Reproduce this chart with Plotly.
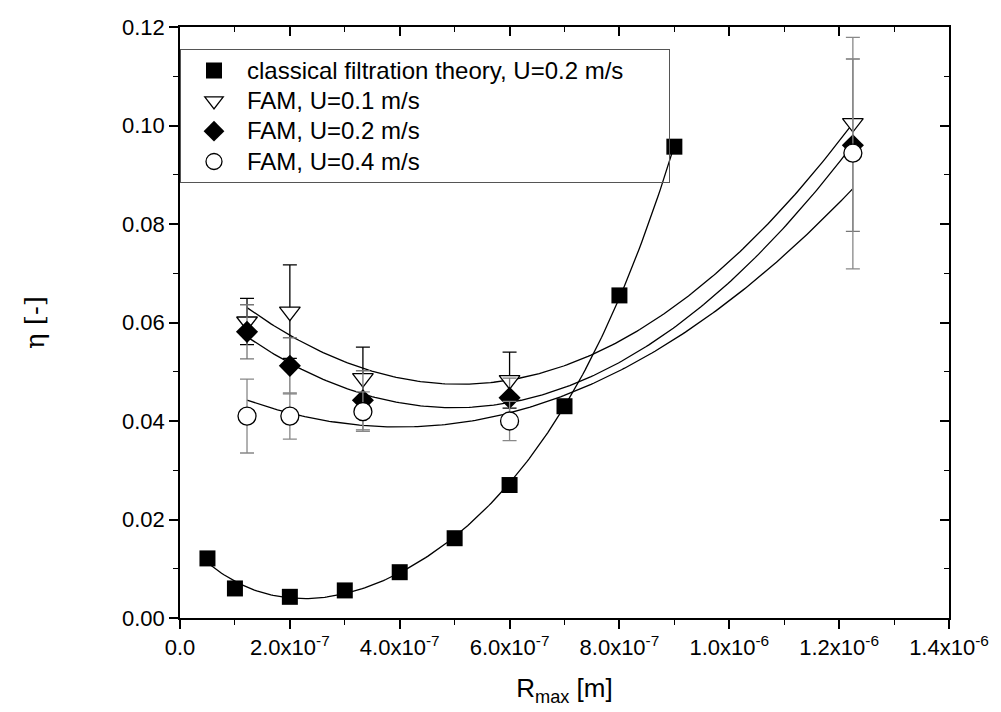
import numpy as np
import plotly.graph_objects as go

# ---- data ----
cft_x = [0.5e-7, 1.0e-7, 2.0e-7, 3.0e-7, 4.0e-7, 5.0e-7, 6.0e-7, 7.0e-7, 8.0e-7, 9.0e-7]
cft_y = [0.0121, 0.0060, 0.0043, 0.0056, 0.0093, 0.0162, 0.0270, 0.0430, 0.0655, 0.0957]

fam_x = [1.22e-7, 2.0e-7, 3.33e-7, 6.0e-7, 1.225e-6]
fam01_y = [0.0602, 0.0622, 0.0487, 0.0483, 0.1005]
fam01_err = [0.0047, 0.0095, 0.0063, 0.0057, 0.0]
fam02_y = [0.0581, 0.0512, 0.0442, 0.0447, 0.0960]
fam02_err = [0.0055, 0.0057, 0.0060, 0.0040, 0.0175]
fam04_y = [0.0410, 0.0410, 0.0419, 0.0400, 0.0944]
fam04_err = [0.0075, 0.0047, 0.0040, 0.0040, 0.0235]

x_tickvals = [0, 2e-7, 4e-7, 6e-7, 8e-7, 1.0e-6, 1.2e-6, 1.4e-6]
x_ticktext = ["0.0", "2.0x10<sup>-7</sup>", "4.0x10<sup>-7</sup>", "6.0x10<sup>-7</sup>",
              "8.0x10<sup>-7</sup>", "1.0x10<sup>-6</sup>", "1.2x10<sup>-6</sup>", "1.4x10<sup>-6</sup>"]
y_tickvals = [0, 0.02, 0.04, 0.06, 0.08, 0.10, 0.12]
y_ticktext = ["0.00", "0.02", "0.04", "0.06", "0.08", "0.10", "0.12"]

names = ["classical filtration theory, U=0.2 m/s", "FAM, U=0.1 m/s", "FAM, U=0.2 m/s", "FAM, U=0.4 m/s"]

FONT = "Liberation Sans, Arial, sans-serif"

def legend_label(s, pad=0):
    return '<span style="font-size:24px">' + s + "\u00a0" * pad + "</span>"

def fit_curve(x, y, deg, w=None):
    xs = np.asarray(x) / 1e-7
    c = np.polyfit(xs, np.asarray(y), deg, w=w)
    xx = np.linspace(xs.min(), xs.max(), 200)
    return xx * 1e-7, np.polyval(c, xx)

fig = go.Figure()

w04 = 1.0 / np.asarray(fam04_err)
for x, y, deg, w in [(cft_x, cft_y, 4, None), (fam_x, fam01_y, 2, None),
                     (fam_x, fam02_y, 2, None), (fam_x, fam04_y, 2, w04)]:
    fx, fy = fit_curve(x, y, deg, w)
    fig.add_trace(go.Scatter(x=fx, y=fy, mode="lines", line=dict(color="black", width=1.3),
                             showlegend=False, hoverinfo="skip"))

fig.add_trace(go.Scatter(x=cft_x, y=cft_y, mode="markers", name=legend_label(names[0], 6),
                         marker=dict(symbol="square", size=16, color="black")))
fig.add_trace(go.Scatter(x=fam_x, y=fam01_y, mode="markers", name=legend_label(names[1]),
                         error_y=dict(type="data", array=fam01_err, color="black", thickness=1.3, width=7),
                         marker=dict(symbol="triangle-down", size=18, color="white",
                                     line=dict(color="black", width=1.3))))
fig.add_trace(go.Scatter(x=fam_x, y=fam02_y, mode="markers", name=legend_label(names[2]),
                         error_y=dict(type="data", array=fam02_err, color="#777777", thickness=1.3, width=7),
                         marker=dict(symbol="diamond", size=17, color="black")))
fig.add_trace(go.Scatter(x=fam_x, y=fam04_y, mode="markers", name=legend_label(names[3]),
                         error_y=dict(type="data", array=fam04_err, color="#888888", thickness=1.3, width=7),
                         marker=dict(symbol="circle", size=18, color="white",
                                     line=dict(color="black", width=1.3))))

minor_x = [1e-7, 3e-7, 5e-7, 7e-7, 9e-7, 1.1e-6, 1.3e-6]
minor_y = [0.01, 0.03, 0.05, 0.07, 0.09, 0.11]

fig.update_layout(
    width=1001, height=712,
    margin=dict(l=180, r=42, t=27, b=94),
    paper_bgcolor="white", plot_bgcolor="white",
    font=dict(family=FONT, size=22, color="black"),
    showlegend=True,
    legend=dict(x=0.0, y=0.962, xanchor="left", yanchor="top",
                bgcolor="rgba(255,255,255,0)", bordercolor="#555555", borderwidth=1,
                font=dict(family=FONT, size=21), itemwidth=56, tracegroupgap=0),
    xaxis=dict(range=[0, 1.4e-6], showgrid=False, zeroline=False,
               showline=True, linecolor="black", linewidth=1.5, mirror=True,
               ticks="outside", ticklen=9, tickwidth=1.5, tickcolor="black",
               tickmode="array", tickvals=x_tickvals, ticktext=x_ticktext,
               tickfont=dict(family=FONT, size=22),
               minor=dict(tickmode="array", tickvals=minor_x,
                          ticks="outside", ticklen=5, tickwidth=1.3, tickcolor="black"),
               title=dict(text="R<sub>max</sub> [m]", font=dict(family=FONT, size=26), standoff=20)),
    yaxis=dict(range=[0, 0.12], showgrid=False, zeroline=False,
               showline=True, linecolor="black", linewidth=1.5, mirror=True,
               ticks="outside", ticklen=9, tickwidth=1.5, tickcolor="black",
               tickmode="array", tickvals=y_tickvals, ticktext=y_ticktext,
               tickfont=dict(family=FONT, size=22),
               minor=dict(tickmode="array", tickvals=minor_y,
                          ticks="outside", ticklen=5, tickwidth=1.3, tickcolor="black"),
               title=dict(text="η [-]", font=dict(family="DejaVu Serif, serif", size=26), standoff=70)),
    xaxis2=dict(overlaying="x", side="top", range=[0, 1.4e-6], showgrid=False, zeroline=False,
                showticklabels=False, ticks="inside", ticklen=9, tickwidth=1.5, tickcolor="black",
                tickmode="array", tickvals=x_tickvals,
                minor=dict(tickmode="array", tickvals=minor_x,
                           ticks="inside", ticklen=5, tickwidth=1.3, tickcolor="black")),
    yaxis2=dict(overlaying="y", side="right", range=[0, 0.12], showgrid=False, zeroline=False,
                showticklabels=False, ticks="inside", ticklen=9, tickwidth=1.5, tickcolor="black",
                tickmode="array", tickvals=y_tickvals,
                minor=dict(tickmode="array", tickvals=minor_y,
                           ticks="inside", ticklen=5, tickwidth=1.3, tickcolor="black")),
)
fig.add_trace(go.Scatter(x=[None], y=[None], xaxis="x2", yaxis="y2", showlegend=False, hoverinfo="skip"))

fig.write_html("out.html")
